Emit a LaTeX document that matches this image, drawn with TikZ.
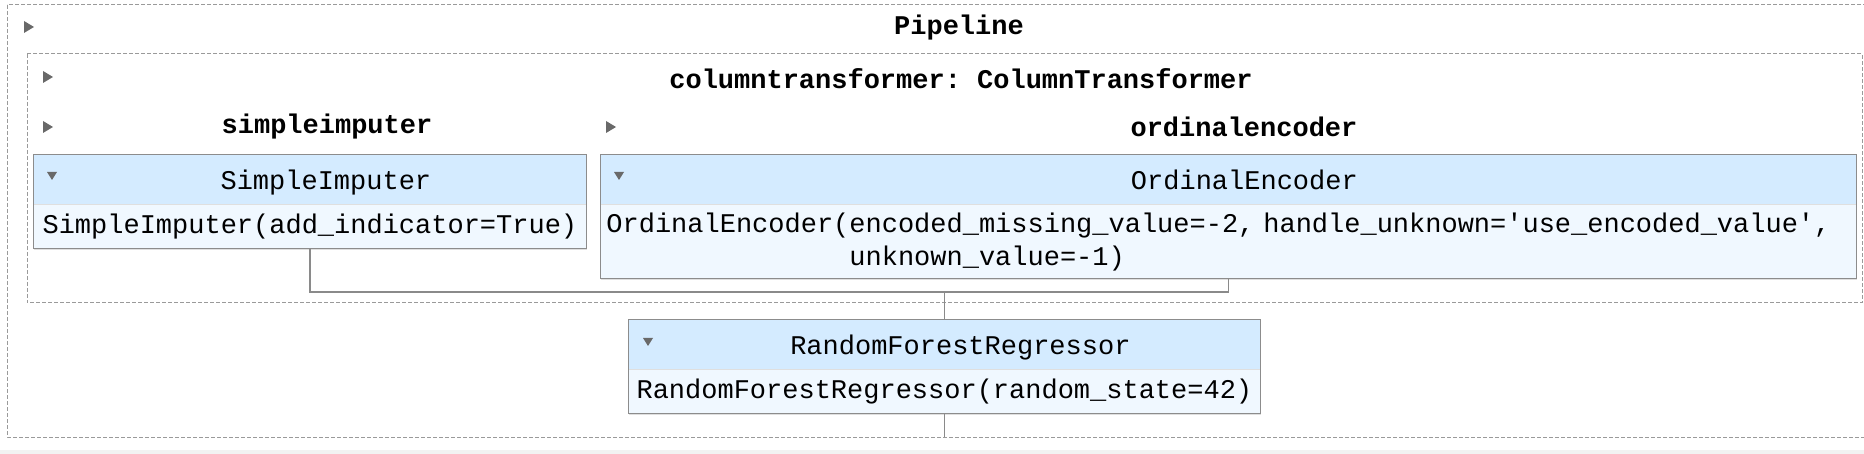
\documentclass[tikz,border=0pt]{standalone}
\usepackage{fontspec}
\setmonofont{Liberation Mono}
\usetikzlibrary{positioning,shadows}
\definecolor{headblue}{HTML}{D4EBFF}
\definecolor{bodyblue}{HTML}{F0F8FF}
\definecolor{dashgray}{HTML}{9A9A9A}
\definecolor{edgegray}{HTML}{8C8C8C}
\definecolor{wiregray}{HTML}{8A8A8A}
\definecolor{trigray}{HTML}{696969}
\definecolor{stripgray}{HTML}{F2F2F2}
\begin{document}
\begin{tikzpicture}[x=0.5pt, y=-0.5pt,
  font=\ttfamily\fontsize{13.5}{16.5}\selectfont,
  container/.style={draw=dashgray, line width=0.5pt, dash pattern=on 2pt off 1pt},
  title/.style={font=\ttfamily\bfseries\fontsize{13.5}{16.5}\selectfont, inner sep=0pt},
  head/.style={fill=headblue, inner sep=0pt, minimum height=24.5pt, anchor=north west,
    text height=10.7pt, text depth=1.3pt,
    drop shadow={shadow xshift=0.5pt, shadow yshift=-0.8pt, opacity=0.25}},
  body/.style={fill=bodyblue, inner sep=0pt, minimum height=21.5pt,
    drop shadow={shadow xshift=0.5pt, shadow yshift=-0.8pt, opacity=0.25}},
  frame/.style={draw=edgegray, line width=0.5pt},
  wire/.style={draw=wiregray, line width=0.75pt},
  opener/.style={fill=trigray}]
\useasboundingbox (0,0) rectangle (1864,454);
\clip (0,0) rectangle (1864,454);
\fill[stripgray] (0,450) rectangle (1864,454);

% dashed containers
\draw[container] (7,5) rectangle (1882,437);
\draw[container] (27,54) rectangle (1862,303);

\node[title] (pipe) at (959,28) {Pipeline};
\node[title] (coltr) at (961,79) {columntransformer: ColumnTransformer};
\node[title] (simp) at (327,127) {simpleimputer};
\node[title] (ordi) at (1244,127) {ordinalencoder};

% estimators
\node[head, minimum width=276.5pt] (sihead) at (33,155) {\hspace*{16pt}SimpleImputer};
\node[body, minimum width=276.5pt, below=0pt of sihead] (sibody) {SimpleImputer(add\_indicator=True)};
\draw[frame] (sihead.north west) rectangle (sibody.south east);

\node[head, minimum width=628pt] (oehead) at (600,155) {\hspace*{16pt}OrdinalEncoder};
\node[body, minimum width=628pt, minimum height=36.5pt, text width=622pt, align=left, below=0pt of oehead] (oebody)
  {OrdinalEncoder(encoded\_missing\_value=-2, handle\_unknown='use\_encoded\_value',\\
   \phantom{OrdinalEncoder(}unknown\_value=-1)};
\draw[frame] (oehead.north west) rectangle (oebody.south east);

\node[head, minimum width=316pt] (rfhead) at (628,320) {\hspace*{16pt}RandomForestRegressor};
\node[body, minimum width=316pt, below=0pt of rfhead] (rfbody) {RandomForestRegressor(random\_state=42)};
\draw[frame] (rfhead.north west) rectangle (rfbody.south east);

% connectors
\coordinate (join) at (rfhead.north |- 0,292);
\coordinate (pipeend) at (rfbody.south |- 0,437);
\draw[wire] (sibody.south) |- (join) -| (oebody.south);
\draw[wire] (join) -- (rfhead.north);
\draw[wire] (rfbody.south) -- (pipeend);

% toggles
\foreach \tx/\ty in {29/27, 48/77, 48/127, 611/127}
  \fill[opener] (\tx-5,\ty-6) -- ++(10,6) -- ++(-10,6) -- cycle;
\foreach \tx/\ty in {52/176, 619/176, 648/342}
  \fill[opener] (\tx-5,\ty-4) -- ++(10,0) -- ++(-5,8) -- cycle;
\end{tikzpicture}
\end{document}
